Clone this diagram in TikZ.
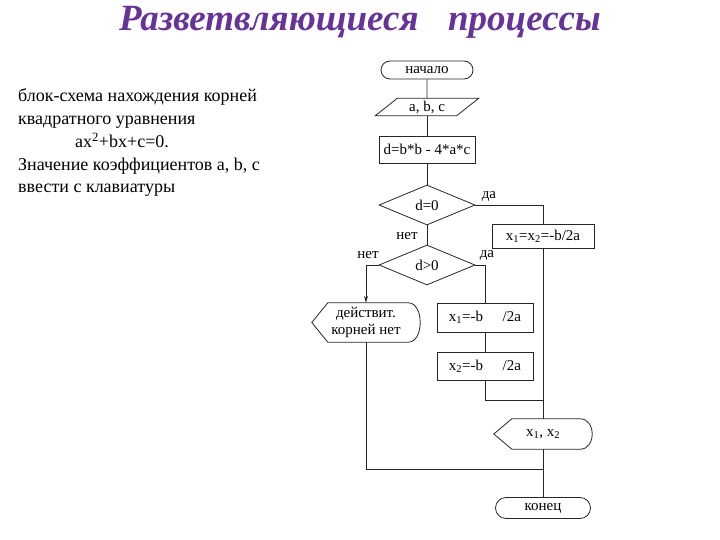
\documentclass[tikz,border=0pt]{standalone}
\usepackage{fontspec}
\setmainfont{Liberation Serif}
\usetikzlibrary{shapes.geometric,shapes.misc,arrows.meta}
\definecolor{ttl}{RGB}{102,51,153}
\begin{document}
\begin{tikzpicture}[x=1pt,y=-1pt,
  ln/.style={line width=0.8pt, draw=black!85},
  fc/.style={font=\fontsize{15}{17}\selectfont, inner sep=0pt},
  term/.style={rounded rectangle, ln, draw, fc},
  dec/.style={diamond, ln, draw, fc, inner sep=0pt},
  pbox/.style={fc, ln, draw}]
\useasboundingbox (0,0) rectangle (720,540);
% title
\node[font=\fontsize{37}{42}\selectfont\bfseries\itshape, text=ttl, inner sep=0pt] (title) at (360,22) {Разветвляющиеся\hspace{0.8em}процессы};
% description
\node[anchor=base west, align=left, font=\fontsize{18}{22.75}\selectfont, inner sep=0pt] (desc) at (18,193)
 {блок-схема нахождения корней\\
  квадратного уравнения\\
  \hspace*{57pt}ax\textsuperscript{2}+bx+c=0.\\
  Значение коэффициентов a, b, c\\
  ввести с клавиатуры};
% flowchart nodes
\node[term, minimum width=92, minimum height=18] (start) at (427,70) {начало};
\node[fc, minimum width=103, minimum height=17] (inp) at (427,107) {a,\ b,\ c};
\draw[ln] ([xshift=22pt]inp.north west) -- (inp.north east) -- ([xshift=-22pt]inp.south east) -- (inp.south west) -- cycle;
\node[pbox, minimum width=96, minimum height=27] (calc) at (427,149.5) {d=b*b - 4*a*c};
\node[dec, minimum width=96, minimum height=40] (d0) at (427,205) {d=0};
\node[dec, minimum width=96, minimum height=40] (d1) at (427,265) {d>0};
\node[fc, minimum width=108, minimum height=39, align=center] (nor) at (366,322.5) {действит.\\корней нет};
\draw[ln] (nor.west) -- ([xshift=16pt]nor.north west) -- ([xshift=-12pt]nor.north east)
  .. controls ([xshift=4pt]nor.north east) and ([xshift=4pt]nor.south east) .. ([xshift=-12pt]nor.south east)
  -- ([xshift=16pt]nor.south west) -- cycle;
\node[pbox, minimum width=102, minimum height=24] (r0) at (543,236) {x\textsubscript{1}=x\textsubscript{2}=-b/2a};
\node[pbox, minimum width=96, minimum height=29] (r1) at (485,317.5) {x\textsubscript{1}=-b\hspace{1.3em}/2a};
\node[pbox, minimum width=96, minimum height=28] (r2) at (485,366) {x\textsubscript{2}=-b\hspace{1.3em}/2a};
\node[fc, minimum width=98, minimum height=30] (out) at (543,434) {x\textsubscript{1}, x\textsubscript{2}};
\draw[ln] (out.west) -- ([xshift=18pt]out.north west) -- ([xshift=-12pt]out.north east)
  .. controls ([xshift=4pt]out.north east) and ([xshift=4pt]out.south east) .. ([xshift=-12pt]out.south east)
  -- ([xshift=18pt]out.south west) -- cycle;
\node[term, minimum width=95, minimum height=21] (end) at (543,508) {конец};
\coordinate (j1) at (543,400);
\coordinate (j2) at (543,469);
% labels
\node[fc] (yes0) at (489,196) {да};
\node[fc] (no0) at (407,236) {нет};
\node[fc] (no1) at (368,255) {нет};
\node[fc] (yes1) at (487,255) {да};
% connectors
\draw[ln] (start) -- (inp);
\draw[ln] (inp) -- (calc);
\draw[ln] (calc) -- (d0);
\draw[ln] (d0) -- (d1);
\draw[ln] (d0.east) -| (r0.north);
\draw[ln] (r0) -- (out);
\draw[ln] (out) -- (end);
\draw[ln, -{Stealth[length=7pt,width=4pt]}] (d1.west) -| (nor.north);
\draw[ln] (d1.east) -| (r1.north);
\draw[ln] (r1) -- (r2);
\draw[ln] (r2.south) |- (j1);
\draw[ln] (nor.south) |- (j2);
\end{tikzpicture}
\end{document}
